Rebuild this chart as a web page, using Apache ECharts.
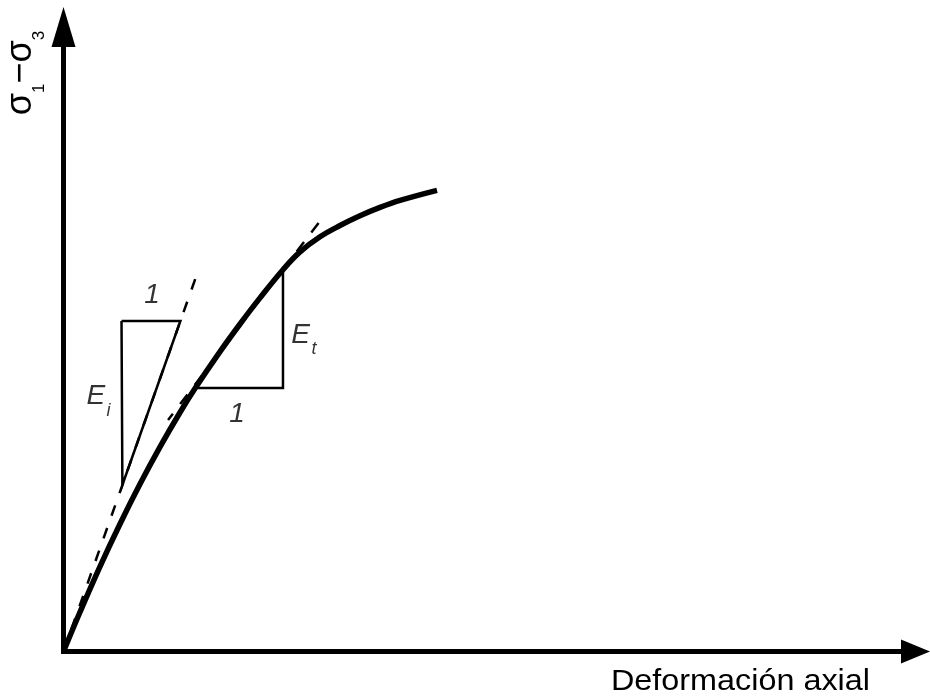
<!DOCTYPE html>
<html>
<head>
<meta charset="utf-8">
<script src="https://cdn.jsdelivr.net/npm/echarts@6/dist/echarts.min.js"></script>
<style>
  html, body { margin: 0; padding: 0; background: #fff; }
  #chart { width: 930px; height: 699px; }
</style>
</head>
<body>
<div id="chart"></div>
<script>
// Deviator stress vs axial strain (schematic, arbitrary units 0–100 on both axes)
const strain   = [0, 1.94, 4.28, 6.63, 8.98, 11.33, 13.67, 15.43, 18.37, 20.72, 23.06, 25.76, 27.76, 30.11, 32.45, 34.80, 37.15, 39.50, 43.84];
const deviator = [0, 6.33, 13.60, 20.42, 26.81, 32.76, 38.27, 42.11, 48.01, 52.44, 56.62, 61.14, 63.99, 66.41, 68.21, 69.77, 71.11, 72.23, 73.84];

// Initial tangent through the origin (modulus Ei)
const initTanX = [0, 15.92];
const initTanY = [0, 61.41];

// Tangent at the working point (modulus Et)
const tanX = [12.27, 30.11];
const tanY = [37.07, 68.94];

// Slope triangles
const triEiX = [6.81, 13.72, 6.91, 6.81];
const triEiY = [52.92, 52.92, 26.66, 52.92];
const triEtX = [15.49, 25.76, 25.76];
const triEtY = [42.19, 42.19, 61.14];

// Annotation texts: main glyphs and their subscripts
const noteText = ['1', 'E', '1', 'E'];
const noteX    = [10.39, 3.81, 20.36, 27.82];
const noteY    = [57.09, 40.91, 38.03, 50.68];
const subText  = ['i', 't'];
const subX     = [5.28, 29.40];
const subY     = [38.59, 48.44];

const axisXName = 'Deformación axial';

const zip = (xs, ys) => xs.map((x, i) => [x, ys[i]]);

const chart = echarts.init(document.getElementById('chart'), null, { renderer: 'canvas' });

const lineBase = { type: 'line', symbol: 'none', silent: true, animation: false, clip: false };
const sans = '"Liberation Sans", Arial, sans-serif';

chart.setOption({
  animation: false,
  backgroundColor: '#ffffff',
  grid: { left: 63.5, right: 14.5, top: 27, bottom: 47.5, containLabel: false, outerBoundsMode: 'none' },
  xAxis: {
    type: 'value', min: 0, max: 100,
    axisLine: { show: true, symbol: ['none', 'triangle'], symbolSize: [24, 29],
      lineStyle: { color: '#000', width: 5, cap: 'square' } },
    axisTick: { show: false }, axisLabel: { show: false }, splitLine: { show: false }
  },
  yAxis: {
    type: 'value', min: 0, max: 100,
    axisLine: { show: true, symbol: ['none', 'triangle'], symbolSize: [24, 40],
      lineStyle: { color: '#000', width: 5, cap: 'square' } },
    axisTick: { show: false }, axisLabel: { show: false }, splitLine: { show: false }
  },
  series: [
    Object.assign({}, lineBase, {
      name: 'tangente inicial', data: zip(initTanX, initTanY), z: 2,
      lineStyle: { color: '#000', width: 2.5, type: [11, 13] }
    }),
    Object.assign({}, lineBase, {
      name: 'tangente', data: zip(tanX, tanY), z: 2,
      lineStyle: { color: '#000', width: 2.5, type: [12, 12], dashOffset: 4 }
    }),
    Object.assign({}, lineBase, {
      name: 'triángulo Ei', data: zip(triEiX, triEiY), z: 3,
      lineStyle: { color: '#000', width: 2.5, join: 'miter' }
    }),
    Object.assign({}, lineBase, {
      name: 'triángulo Et', data: zip(triEtX, triEtY), z: 3,
      lineStyle: { color: '#000', width: 2.5, join: 'miter' }
    }),
    Object.assign({}, lineBase, {
      name: 'curva', data: zip(strain, deviator), z: 5, smooth: 0.4,
      lineStyle: { color: '#000', width: 5.5, cap: 'butt' }
    }),
    {
      type: 'scatter', name: 'notas', silent: true, animation: false, symbolSize: 0, z: 6,
      data: zip(noteX, noteY).map((p, i) => ({ value: p, name: noteText[i] })),
      label: { show: true, position: 'inside', formatter: '{b}', color: '#000',
        fontFamily: sans, fontStyle: 'italic', fontSize: 28 }
    },
    {
      type: 'scatter', name: 'subíndices', silent: true, animation: false, symbolSize: 0, z: 6,
      data: zip(subX, subY).map((p, i) => ({ value: p, name: subText[i] })),
      label: { show: true, position: 'inside', formatter: '{b}', color: '#000',
        fontFamily: sans, fontStyle: 'italic', fontSize: 18 }
    }
  ],
  graphic: [
    {
      type: 'text', x: 870, y: 682, scaleX: 1.116, silent: true,
      style: { text: axisXName, fill: '#000', align: 'right', verticalAlign: 'middle',
        font: '29px "Liberation Sans", Arial, sans-serif' }
    },
    {
      type: 'text', x: 23, y: 73, rotation: Math.PI / 2, silent: true,
      style: {
        text: '{m|σ}{s|1}{m|−}{m|σ}{s|3}',
        align: 'center', verticalAlign: 'middle', fill: '#000',
        rich: {
          m: { fontSize: 36, lineHeight: 40, verticalAlign: 'top', fontFamily: sans, fill: '#000' },
          s: { fontSize: 17, lineHeight: 17, verticalAlign: 'top', padding: [28, 0, 0, 0], fontFamily: sans, fill: '#000' }
        }
      }
    }
  ]
});
</script>
</body>
</html>
